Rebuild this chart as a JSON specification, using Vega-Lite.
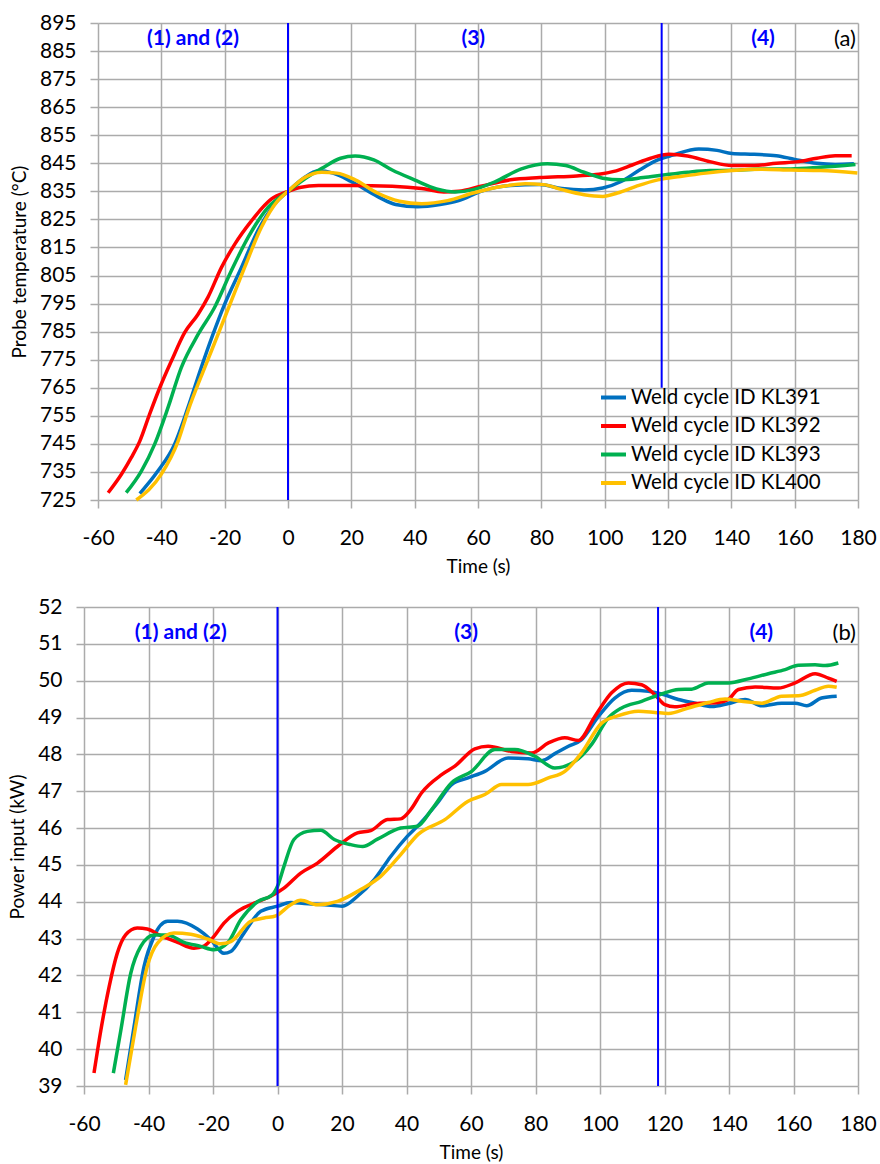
{
  "$schema": "https://vega.github.io/schema/vega-lite/v6.json",
  "padding": {"left": 8, "top": 12, "right": 5, "bottom": 0},
  "background": "white",
  "spacing": 20,
  "resolve": {"scale": {"x": "independent", "y": "independent", "color": "independent"}, "legend": {"color": "independent"}},
  "datasets": {
    "temp": [
      {"s":"Weld cycle ID KL391","t":-46.8,"v":727.3},{"s":"Weld cycle ID KL391","t":-41.1,"v":735.3},{"s":"Weld cycle ID KL391","t":-35.8,"v":744.9},{"s":"Weld cycle ID KL391","t":-31.6,"v":757.9},{"s":"Weld cycle ID KL391","t":-27.4,"v":772.2},{"s":"Weld cycle ID KL391","t":-23.7,"v":784},{"s":"Weld cycle ID KL391","t":-20,"v":794.8},{"s":"Weld cycle ID KL391","t":-14.7,"v":807.9},{"s":"Weld cycle ID KL391","t":-9.5,"v":821},{"s":"Weld cycle ID KL391","t":-4.2,"v":830.5},{"s":"Weld cycle ID KL391","t":0,"v":835},{"s":"Weld cycle ID KL391","t":4.9,"v":839.7},{"s":"Weld cycle ID KL391","t":9.6,"v":842.3},{"s":"Weld cycle ID KL391","t":14.2,"v":841.5},{"s":"Weld cycle ID KL391","t":20,"v":838.5},{"s":"Weld cycle ID KL391","t":28.2,"v":833.2},{"s":"Weld cycle ID KL391","t":34,"v":830.3},{"s":"Weld cycle ID KL391","t":41,"v":829.5},{"s":"Weld cycle ID KL391","t":48,"v":830.3},{"s":"Weld cycle ID KL391","t":53.9,"v":831.7},{"s":"Weld cycle ID KL391","t":60.9,"v":835},{"s":"Weld cycle ID KL391","t":70.2,"v":837.1},{"s":"Weld cycle ID KL391","t":79.5,"v":837.4},{"s":"Weld cycle ID KL391","t":86.5,"v":836},{"s":"Weld cycle ID KL391","t":93.5,"v":835.5},{"s":"Weld cycle ID KL391","t":99.4,"v":836.2},{"s":"Weld cycle ID KL391","t":105.2,"v":838.5},{"s":"Weld cycle ID KL391","t":111,"v":842.6},{"s":"Weld cycle ID KL391","t":116.8,"v":846.2},{"s":"Weld cycle ID KL391","t":121.5,"v":847.9},{"s":"Weld cycle ID KL391","t":129.7,"v":850.1},{"s":"Weld cycle ID KL391","t":135.5,"v":849.6},{"s":"Weld cycle ID KL391","t":140.2,"v":848.5},{"s":"Weld cycle ID KL391","t":147.2,"v":848.2},{"s":"Weld cycle ID KL391","t":154.2,"v":847.7},{"s":"Weld cycle ID KL391","t":160,"v":846.4},{"s":"Weld cycle ID KL391","t":167,"v":845},{"s":"Weld cycle ID KL391","t":172.8,"v":844.6},{"s":"Weld cycle ID KL391","t":178.7,"v":844.8},
      {"s":"Weld cycle ID KL392","t":-56.8,"v":727.6},{"s":"Weld cycle ID KL392","t":-52.6,"v":734.2},{"s":"Weld cycle ID KL392","t":-49.5,"v":740.1},{"s":"Weld cycle ID KL392","t":-46.8,"v":746},{"s":"Weld cycle ID KL392","t":-43.7,"v":755.6},{"s":"Weld cycle ID KL392","t":-40.5,"v":765},{"s":"Weld cycle ID KL392","t":-36.8,"v":774.6},{"s":"Weld cycle ID KL392","t":-32.6,"v":784.7},{"s":"Weld cycle ID KL392","t":-28.4,"v":791.2},{"s":"Weld cycle ID KL392","t":-25.3,"v":797.2},{"s":"Weld cycle ID KL392","t":-21,"v":807.9},{"s":"Weld cycle ID KL392","t":-16.8,"v":816.2},{"s":"Weld cycle ID KL392","t":-11.6,"v":824.4},{"s":"Weld cycle ID KL392","t":-5.3,"v":832.2},{"s":"Weld cycle ID KL392","t":0,"v":835},{"s":"Weld cycle ID KL392","t":3.7,"v":836.4},{"s":"Weld cycle ID KL392","t":9.6,"v":837.1},{"s":"Weld cycle ID KL392","t":20,"v":837.1},{"s":"Weld cycle ID KL392","t":32.9,"v":836.8},{"s":"Weld cycle ID KL392","t":42.2,"v":836},{"s":"Weld cycle ID KL392","t":49.2,"v":834.8},{"s":"Weld cycle ID KL392","t":53.9,"v":835},{"s":"Weld cycle ID KL392","t":60.9,"v":836.8},{"s":"Weld cycle ID KL392","t":70.2,"v":839.1},{"s":"Weld cycle ID KL392","t":79.5,"v":839.9},{"s":"Weld cycle ID KL392","t":91.2,"v":840.5},{"s":"Weld cycle ID KL392","t":98.2,"v":841.1},{"s":"Weld cycle ID KL392","t":102.9,"v":842.1},{"s":"Weld cycle ID KL392","t":108.7,"v":844.4},{"s":"Weld cycle ID KL392","t":114.5,"v":846.8},{"s":"Weld cycle ID KL392","t":120.3,"v":848.2},{"s":"Weld cycle ID KL392","t":126.2,"v":847.6},{"s":"Weld cycle ID KL392","t":133.2,"v":845.6},{"s":"Weld cycle ID KL392","t":140.2,"v":844.2},{"s":"Weld cycle ID KL392","t":147.2,"v":844.2},{"s":"Weld cycle ID KL392","t":154.2,"v":845},{"s":"Weld cycle ID KL392","t":161.2,"v":845.6},{"s":"Weld cycle ID KL392","t":167,"v":846.8},{"s":"Weld cycle ID KL392","t":172.8,"v":847.7},{"s":"Weld cycle ID KL392","t":178,"v":847.7},
      {"s":"Weld cycle ID KL393","t":-51.1,"v":727.6},{"s":"Weld cycle ID KL393","t":-46.3,"v":735.3},{"s":"Weld cycle ID KL393","t":-42.1,"v":744.9},{"s":"Weld cycle ID KL393","t":-37.9,"v":757.9},{"s":"Weld cycle ID KL393","t":-33.7,"v":772.2},{"s":"Weld cycle ID KL393","t":-28.4,"v":784},{"s":"Weld cycle ID KL393","t":-23.2,"v":793.6},{"s":"Weld cycle ID KL393","t":-17.9,"v":806.7},{"s":"Weld cycle ID KL393","t":-12.6,"v":818.6},{"s":"Weld cycle ID KL393","t":-6.3,"v":829.3},{"s":"Weld cycle ID KL393","t":0,"v":835},{"s":"Weld cycle ID KL393","t":4.9,"v":839.1},{"s":"Weld cycle ID KL393","t":10.7,"v":843.2},{"s":"Weld cycle ID KL393","t":16.6,"v":846.8},{"s":"Weld cycle ID KL393","t":21.2,"v":847.6},{"s":"Weld cycle ID KL393","t":27.1,"v":846.2},{"s":"Weld cycle ID KL393","t":32.9,"v":842.6},{"s":"Weld cycle ID KL393","t":39.9,"v":839.1},{"s":"Weld cycle ID KL393","t":46.9,"v":835.9},{"s":"Weld cycle ID KL393","t":52.7,"v":834.8},{"s":"Weld cycle ID KL393","t":58.5,"v":835.6},{"s":"Weld cycle ID KL393","t":65.5,"v":838.5},{"s":"Weld cycle ID KL393","t":73.7,"v":843},{"s":"Weld cycle ID KL393","t":81.9,"v":844.8},{"s":"Weld cycle ID KL393","t":87.7,"v":844.2},{"s":"Weld cycle ID KL393","t":93.5,"v":841.8},{"s":"Weld cycle ID KL393","t":99.4,"v":839.7},{"s":"Weld cycle ID KL393","t":105.2,"v":839.1},{"s":"Weld cycle ID KL393","t":112.2,"v":839.9},{"s":"Weld cycle ID KL393","t":119.2,"v":840.9},{"s":"Weld cycle ID KL393","t":126.2,"v":841.8},{"s":"Weld cycle ID KL393","t":133.2,"v":842.4},{"s":"Weld cycle ID KL393","t":140.2,"v":842.5},{"s":"Weld cycle ID KL393","t":149.5,"v":843},{"s":"Weld cycle ID KL393","t":158.8,"v":843},{"s":"Weld cycle ID KL393","t":168.2,"v":843.6},{"s":"Weld cycle ID KL393","t":179.2,"v":844.6},
      {"s":"Weld cycle ID KL400","t":-47.9,"v":725},{"s":"Weld cycle ID KL400","t":-40,"v":734.2},{"s":"Weld cycle ID KL400","t":-34.7,"v":746},{"s":"Weld cycle ID KL400","t":-31.6,"v":756.7},{"s":"Weld cycle ID KL400","t":-26.3,"v":772.2},{"s":"Weld cycle ID KL400","t":-22.1,"v":784},{"s":"Weld cycle ID KL400","t":-17.9,"v":796},{"s":"Weld cycle ID KL400","t":-13.7,"v":807.9},{"s":"Weld cycle ID KL400","t":-8.4,"v":822.2},{"s":"Weld cycle ID KL400","t":-3.2,"v":831.7},{"s":"Weld cycle ID KL400","t":0,"v":835},{"s":"Weld cycle ID KL400","t":4.9,"v":839.7},{"s":"Weld cycle ID KL400","t":10.7,"v":841.8},{"s":"Weld cycle ID KL400","t":15.4,"v":841.5},{"s":"Weld cycle ID KL400","t":21.2,"v":839.1},{"s":"Weld cycle ID KL400","t":28.2,"v":834.4},{"s":"Weld cycle ID KL400","t":35.2,"v":831.5},{"s":"Weld cycle ID KL400","t":42.2,"v":830.6},{"s":"Weld cycle ID KL400","t":50.4,"v":831.7},{"s":"Weld cycle ID KL400","t":58.5,"v":834.4},{"s":"Weld cycle ID KL400","t":67.9,"v":836.8},{"s":"Weld cycle ID KL400","t":74.9,"v":837.7},{"s":"Weld cycle ID KL400","t":80.7,"v":837.4},{"s":"Weld cycle ID KL400","t":86.5,"v":835.6},{"s":"Weld cycle ID KL400","t":93.5,"v":833.8},{"s":"Weld cycle ID KL400","t":99.4,"v":833.2},{"s":"Weld cycle ID KL400","t":104,"v":834.4},{"s":"Weld cycle ID KL400","t":109.9,"v":836.8},{"s":"Weld cycle ID KL400","t":116.8,"v":839.1},{"s":"Weld cycle ID KL400","t":123.9,"v":840.3},{"s":"Weld cycle ID KL400","t":132,"v":841.5},{"s":"Weld cycle ID KL400","t":140.2,"v":842.4},{"s":"Weld cycle ID KL400","t":149.5,"v":842.9},{"s":"Weld cycle ID KL400","t":158.8,"v":842.6},{"s":"Weld cycle ID KL400","t":168.2,"v":842.4},{"s":"Weld cycle ID KL400","t":179.8,"v":841.5}
    ],
    "power": [
      {"s":"Weld cycle ID KL391","t":-47.1,"v":39.16},{"s":"Weld cycle ID KL391","t":-44.5,"v":40.6},{"s":"Weld cycle ID KL391","t":-41.4,"v":42.24},{"s":"Weld cycle ID KL391","t":-38.3,"v":43.06},{"s":"Weld cycle ID KL391","t":-34.1,"v":43.47},{"s":"Weld cycle ID KL391","t":-31,"v":43.47},{"s":"Weld cycle ID KL391","t":-24.8,"v":43.26},{"s":"Weld cycle ID KL391","t":-20.7,"v":42.97},{"s":"Weld cycle ID KL391","t":-16.6,"v":42.6},{"s":"Weld cycle ID KL391","t":-14.5,"v":42.65},{"s":"Weld cycle ID KL391","t":-10.4,"v":43.15},{"s":"Weld cycle ID KL391","t":-5.2,"v":43.74},{"s":"Weld cycle ID KL391","t":0,"v":43.88},{"s":"Weld cycle ID KL391","t":4.1,"v":43.98},{"s":"Weld cycle ID KL391","t":8.3,"v":43.95},{"s":"Weld cycle ID KL391","t":14.5,"v":43.92},{"s":"Weld cycle ID KL391","t":20.1,"v":43.88},{"s":"Weld cycle ID KL391","t":24.8,"v":44.15},{"s":"Weld cycle ID KL391","t":30,"v":44.6},{"s":"Weld cycle ID KL391","t":35.1,"v":45.23},{"s":"Weld cycle ID KL391","t":40.3,"v":45.78},{"s":"Weld cycle ID KL391","t":44.4,"v":46.14},{"s":"Weld cycle ID KL391","t":49.6,"v":46.68},{"s":"Weld cycle ID KL391","t":54,"v":47.18},{"s":"Weld cycle ID KL391","t":59.1,"v":47.36},{"s":"Weld cycle ID KL391","t":64.3,"v":47.54},{"s":"Weld cycle ID KL391","t":71.5,"v":47.9},{"s":"Weld cycle ID KL391","t":77.7,"v":47.88},{"s":"Weld cycle ID KL391","t":81.9,"v":47.83},{"s":"Weld cycle ID KL391","t":86,"v":48.02},{"s":"Weld cycle ID KL391","t":90.2,"v":48.22},{"s":"Weld cycle ID KL391","t":94.3,"v":48.4},{"s":"Weld cycle ID KL391","t":99.5,"v":49.03},{"s":"Weld cycle ID KL391","t":104.6,"v":49.53},{"s":"Weld cycle ID KL391","t":109.8,"v":49.74},{"s":"Weld cycle ID KL391","t":115,"v":49.71},{"s":"Weld cycle ID KL391","t":119.1,"v":49.64},{"s":"Weld cycle ID KL391","t":124.3,"v":49.49},{"s":"Weld cycle ID KL391","t":129.5,"v":49.39},{"s":"Weld cycle ID KL391","t":134.6,"v":49.3},{"s":"Weld cycle ID KL391","t":139.8,"v":49.38},{"s":"Weld cycle ID KL391","t":145,"v":49.49},{"s":"Weld cycle ID KL391","t":150.2,"v":49.32},{"s":"Weld cycle ID KL391","t":156.3,"v":49.39},{"s":"Weld cycle ID KL391","t":160.5,"v":49.39},{"s":"Weld cycle ID KL391","t":164.1,"v":49.32},{"s":"Weld cycle ID KL391","t":168.7,"v":49.53},{"s":"Weld cycle ID KL391","t":173.4,"v":49.58},
      {"s":"Weld cycle ID KL392","t":-56.9,"v":39.35},{"s":"Weld cycle ID KL392","t":-54.8,"v":40.5},{"s":"Weld cycle ID KL392","t":-52.2,"v":41.7},{"s":"Weld cycle ID KL392","t":-49.7,"v":42.6},{"s":"Weld cycle ID KL392","t":-47.1,"v":43.1},{"s":"Weld cycle ID KL392","t":-43.5,"v":43.29},{"s":"Weld cycle ID KL392","t":-40.4,"v":43.26},{"s":"Weld cycle ID KL392","t":-36.2,"v":43.08},{"s":"Weld cycle ID KL392","t":-31,"v":42.9},{"s":"Weld cycle ID KL392","t":-25.9,"v":42.74},{"s":"Weld cycle ID KL392","t":-22.8,"v":42.8},{"s":"Weld cycle ID KL392","t":-19.7,"v":43.06},{"s":"Weld cycle ID KL392","t":-16.6,"v":43.42},{"s":"Weld cycle ID KL392","t":-12.4,"v":43.74},{"s":"Weld cycle ID KL392","t":-6.2,"v":44},{"s":"Weld cycle ID KL392","t":-2.1,"v":44.15},{"s":"Weld cycle ID KL392","t":2,"v":44.37},{"s":"Weld cycle ID KL392","t":7.2,"v":44.78},{"s":"Weld cycle ID KL392","t":12.4,"v":45.05},{"s":"Weld cycle ID KL392","t":18.6,"v":45.5},{"s":"Weld cycle ID KL392","t":24.8,"v":45.87},{"s":"Weld cycle ID KL392","t":28.9,"v":45.93},{"s":"Weld cycle ID KL392","t":34.1,"v":46.23},{"s":"Weld cycle ID KL392","t":38.2,"v":46.25},{"s":"Weld cycle ID KL392","t":41.3,"v":46.5},{"s":"Weld cycle ID KL392","t":44.7,"v":46.96},{"s":"Weld cycle ID KL392","t":50.9,"v":47.45},{"s":"Weld cycle ID KL392","t":55,"v":47.68},{"s":"Weld cycle ID KL392","t":61.2,"v":48.15},{"s":"Weld cycle ID KL392","t":65.3,"v":48.22},{"s":"Weld cycle ID KL392","t":72.5,"v":48.08},{"s":"Weld cycle ID KL392","t":78.8,"v":48.04},{"s":"Weld cycle ID KL392","t":84,"v":48.31},{"s":"Weld cycle ID KL392","t":89.1,"v":48.45},{"s":"Weld cycle ID KL392","t":93.3,"v":48.38},{"s":"Weld cycle ID KL392","t":98.4,"v":49.03},{"s":"Weld cycle ID KL392","t":103.6,"v":49.67},{"s":"Weld cycle ID KL392","t":108.8,"v":49.94},{"s":"Weld cycle ID KL392","t":112.9,"v":49.89},{"s":"Weld cycle ID KL392","t":117,"v":49.62},{"s":"Weld cycle ID KL392","t":120.1,"v":49.35},{"s":"Weld cycle ID KL392","t":123.2,"v":49.29},{"s":"Weld cycle ID KL392","t":129.5,"v":49.38},{"s":"Weld cycle ID KL392","t":136.7,"v":49.41},{"s":"Weld cycle ID KL392","t":139.8,"v":49.49},{"s":"Weld cycle ID KL392","t":142.9,"v":49.76},{"s":"Weld cycle ID KL392","t":148.1,"v":49.83},{"s":"Weld cycle ID KL392","t":155.3,"v":49.8},{"s":"Weld cycle ID KL392","t":160.5,"v":49.94},{"s":"Weld cycle ID KL392","t":166.7,"v":50.19},{"s":"Weld cycle ID KL392","t":170.8,"v":50.07},{"s":"Weld cycle ID KL392","t":173.4,"v":49.98},
      {"s":"Weld cycle ID KL393","t":-50.9,"v":39.35},{"s":"Weld cycle ID KL393","t":-48.6,"v":40.5},{"s":"Weld cycle ID KL393","t":-45.5,"v":42.06},{"s":"Weld cycle ID KL393","t":-42.4,"v":42.79},{"s":"Weld cycle ID KL393","t":-38.3,"v":43.1},{"s":"Weld cycle ID KL393","t":-34.1,"v":43.1},{"s":"Weld cycle ID KL393","t":-29,"v":42.9},{"s":"Weld cycle ID KL393","t":-23.8,"v":42.79},{"s":"Weld cycle ID KL393","t":-19.7,"v":42.7},{"s":"Weld cycle ID KL393","t":-15.5,"v":42.88},{"s":"Weld cycle ID KL393","t":-11.4,"v":43.51},{"s":"Weld cycle ID KL393","t":-6.2,"v":44},{"s":"Weld cycle ID KL393","t":-1.6,"v":44.19},{"s":"Weld cycle ID KL393","t":0,"v":44.42},{"s":"Weld cycle ID KL393","t":2,"v":44.96},{"s":"Weld cycle ID KL393","t":5.1,"v":45.69},{"s":"Weld cycle ID KL393","t":9.3,"v":45.91},{"s":"Weld cycle ID KL393","t":13.4,"v":45.94},{"s":"Weld cycle ID KL393","t":17.6,"v":45.69},{"s":"Weld cycle ID KL393","t":22.7,"v":45.55},{"s":"Weld cycle ID KL393","t":26.4,"v":45.5},{"s":"Weld cycle ID KL393","t":31,"v":45.7},{"s":"Weld cycle ID KL393","t":38.2,"v":46},{"s":"Weld cycle ID KL393","t":43.4,"v":46.05},{"s":"Weld cycle ID KL393","t":47.8,"v":46.5},{"s":"Weld cycle ID KL393","t":54,"v":47.23},{"s":"Weld cycle ID KL393","t":60.2,"v":47.54},{"s":"Weld cycle ID KL393","t":67.4,"v":48.13},{"s":"Weld cycle ID KL393","t":73.6,"v":48.13},{"s":"Weld cycle ID KL393","t":79.8,"v":47.95},{"s":"Weld cycle ID KL393","t":86,"v":47.63},{"s":"Weld cycle ID KL393","t":92.2,"v":47.81},{"s":"Weld cycle ID KL393","t":97.4,"v":48.27},{"s":"Weld cycle ID KL393","t":102.6,"v":48.99},{"s":"Weld cycle ID KL393","t":106.7,"v":49.26},{"s":"Weld cycle ID KL393","t":112.9,"v":49.44},{"s":"Weld cycle ID KL393","t":119.1,"v":49.64},{"s":"Weld cycle ID KL393","t":124.3,"v":49.76},{"s":"Weld cycle ID KL393","t":128.4,"v":49.77},{"s":"Weld cycle ID KL393","t":133.6,"v":49.94},{"s":"Weld cycle ID KL393","t":139.8,"v":49.94},{"s":"Weld cycle ID KL393","t":146,"v":50.05},{"s":"Weld cycle ID KL393","t":152.2,"v":50.19},{"s":"Weld cycle ID KL393","t":157.4,"v":50.3},{"s":"Weld cycle ID KL393","t":161.5,"v":50.42},{"s":"Weld cycle ID KL393","t":166.7,"v":50.43},{"s":"Weld cycle ID KL393","t":169.8,"v":50.41},{"s":"Weld cycle ID KL393","t":173.9,"v":50.48},
      {"s":"Weld cycle ID KL400","t":-47.1,"v":39.03},{"s":"Weld cycle ID KL400","t":-44,"v":40.6},{"s":"Weld cycle ID KL400","t":-40.4,"v":42.24},{"s":"Weld cycle ID KL400","t":-37.2,"v":42.88},{"s":"Weld cycle ID KL400","t":-32.1,"v":43.15},{"s":"Weld cycle ID KL400","t":-26.9,"v":43.12},{"s":"Weld cycle ID KL400","t":-21.7,"v":42.99},{"s":"Weld cycle ID KL400","t":-17.6,"v":42.86},{"s":"Weld cycle ID KL400","t":-14.5,"v":42.92},{"s":"Weld cycle ID KL400","t":-8.3,"v":43.47},{"s":"Weld cycle ID KL400","t":-4.2,"v":43.56},{"s":"Weld cycle ID KL400","t":-0.5,"v":43.62},{"s":"Weld cycle ID KL400","t":4.1,"v":43.92},{"s":"Weld cycle ID KL400","t":7.2,"v":44.04},{"s":"Weld cycle ID KL400","t":12.4,"v":43.92},{"s":"Weld cycle ID KL400","t":18.6,"v":44.01},{"s":"Weld cycle ID KL400","t":25.8,"v":44.33},{"s":"Weld cycle ID KL400","t":32,"v":44.69},{"s":"Weld cycle ID KL400","t":38.2,"v":45.28},{"s":"Weld cycle ID KL400","t":43.6,"v":45.83},{"s":"Weld cycle ID KL400","t":51.9,"v":46.23},{"s":"Weld cycle ID KL400","t":59.1,"v":46.73},{"s":"Weld cycle ID KL400","t":64.3,"v":46.91},{"s":"Weld cycle ID KL400","t":69.5,"v":47.18},{"s":"Weld cycle ID KL400","t":77.7,"v":47.18},{"s":"Weld cycle ID KL400","t":84,"v":47.36},{"s":"Weld cycle ID KL400","t":89.1,"v":47.54},{"s":"Weld cycle ID KL400","t":94.3,"v":48.04},{"s":"Weld cycle ID KL400","t":100.5,"v":48.85},{"s":"Weld cycle ID KL400","t":105.7,"v":49.05},{"s":"Weld cycle ID KL400","t":111.9,"v":49.17},{"s":"Weld cycle ID KL400","t":117,"v":49.14},{"s":"Weld cycle ID KL400","t":121.2,"v":49.11},{"s":"Weld cycle ID KL400","t":127.4,"v":49.26},{"s":"Weld cycle ID KL400","t":133.6,"v":49.41},{"s":"Weld cycle ID KL400","t":138.8,"v":49.5},{"s":"Weld cycle ID KL400","t":143.9,"v":49.44},{"s":"Weld cycle ID KL400","t":150.2,"v":49.39},{"s":"Weld cycle ID KL400","t":156.3,"v":49.58},{"s":"Weld cycle ID KL400","t":161.5,"v":49.59},{"s":"Weld cycle ID KL400","t":166.7,"v":49.74},{"s":"Weld cycle ID KL400","t":170.8,"v":49.85},{"s":"Weld cycle ID KL400","t":173.4,"v":49.82}
    ],
    "phases": [
      {"t":-30,"label":"(1) and (2)"},{"t":58.5,"label":"(3)"},{"t":150,"label":"(4)"}
    ]
  },
  "vconcat": [
    {
      "width": 760,
      "height": 477,
      "layer": [
        {
          "data": {"name": "temp"},
          "mark": {"type": "line", "strokeWidth": 3.5, "interpolate": "monotone"},
          "encoding": {
            "x": {"field": "t", "type": "quantitative", "scale": {"domain": [-60, 180], "nice": false}, "axis": {"title": "Time (s)", "values": [-60,-40,-20,0,20,40,60,80,100,120,140,160,180], "labelExpr": "datum.value + ''"}},
            "y": {"field": "v", "type": "quantitative", "scale": {"domain": [725, 895], "nice": false, "zero": false}, "axis": {"title": "Probe temperature (°C)", "values": [725,735,745,755,765,775,785,795,805,815,825,835,845,855,865,875,885,895]}},
            "color": {"field": "s", "type": "nominal",
              "scale": {"domain": ["Weld cycle ID KL391","Weld cycle ID KL392","Weld cycle ID KL393","Weld cycle ID KL400"], "range": ["#0070C0","#FF0000","#00B050","#FFC000"]},
              "legend": {"orient": "none", "legendX": 501, "legendY": 360, "title": null, "symbolType": "stroke", "symbolSize": 625, "symbolStrokeWidth": 4, "labelFontSize": 20.5, "labelColor": "#000000", "labelOffset": 3, "rowPadding": 3.5, "labelLimit": 400}}
          }
        },
        {
          "data": {"values": [{"t": 0}]},
          "mark": {"type": "rule", "color": "#0000FF", "strokeWidth": 2},
          "encoding": {"x": {"field": "t", "type": "quantitative", "scale": {"domain": [-60, 180], "nice": false}, "axis": {"title": "Time (s)", "values": [-60,-40,-20,0,20,40,60,80,100,120,140,160,180], "labelExpr": "datum.value + ''"}}}
        },
        {
          "data": {"values": [{"t": 118, "lo": 765, "hi": 895}]},
          "mark": {"type": "rule", "color": "#0000FF", "strokeWidth": 2},
          "encoding": {
            "x": {"field": "t", "type": "quantitative", "scale": {"domain": [-60, 180], "nice": false}, "axis": {"title": "Time (s)", "values": [-60,-40,-20,0,20,40,60,80,100,120,140,160,180], "labelExpr": "datum.value + ''"}},
            "y": {"field": "lo", "type": "quantitative", "scale": {"domain": [725, 895], "nice": false, "zero": false}, "axis": {"title": "Probe temperature (°C)", "values": [725,735,745,755,765,775,785,795,805,815,825,835,845,855,865,875,885,895]}},
            "y2": {"field": "hi"}
          }
        },
        {
          "data": {"name": "phases"},
          "mark": {"type": "text", "color": "#0000FF", "fontWeight": "bold", "fontSize": 21},
          "encoding": {
            "x": {"field": "t", "type": "quantitative", "scale": {"domain": [-60, 180], "nice": false}, "axis": {"title": "Time (s)", "values": [-60,-40,-20,0,20,40,60,80,100,120,140,160,180], "labelExpr": "datum.value + ''"}},
            "y": {"datum": 889.3, "type": "quantitative", "scale": {"domain": [725, 895], "nice": false, "zero": false}, "axis": {"title": "Probe temperature (°C)", "values": [725,735,745,755,765,775,785,795,805,815,825,835,845,855,865,875,885,895]}},
            "text": {"field": "label"}
          }
        },
        {
          "data": {"values": [{"t": 180, "label": "(a)"}]},
          "mark": {"type": "text", "color": "#000000", "fontSize": 22, "align": "right", "dx": -2},
          "encoding": {
            "x": {"field": "t", "type": "quantitative", "scale": {"domain": [-60, 180], "nice": false}, "axis": {"title": "Time (s)", "values": [-60,-40,-20,0,20,40,60,80,100,120,140,160,180], "labelExpr": "datum.value + ''"}},
            "y": {"datum": 889.3, "type": "quantitative", "scale": {"domain": [725, 895], "nice": false, "zero": false}, "axis": {"title": "Probe temperature (°C)", "values": [725,735,745,755,765,775,785,795,805,815,825,835,845,855,865,875,885,895]}},
            "text": {"field": "label"}
          }
        }
      ]
    },
    {
      "width": 760,
      "height": 479,
      "layer": [
        {
          "data": {"name": "power"},
          "mark": {"type": "line", "strokeWidth": 3.5, "interpolate": "monotone"},
          "encoding": {
            "x": {"field": "t", "type": "quantitative", "scale": {"domain": [-60, 180], "nice": false, "range": [-14, 760]}, "axis": {"title": "Time (s)", "values": [-60,-40,-20,0,20,40,60,80,100,120,140,160,180], "labelExpr": "datum.value + ''"}},
            "y": {"field": "v", "type": "quantitative", "scale": {"domain": [39, 52], "nice": false, "zero": false}, "axis": {"title": "Power input (kW)", "offset": 14, "values": [39,40,41,42,43,44,45,46,47,48,49,50,51,52]}},
            "color": {"field": "s", "type": "nominal",
              "scale": {"domain": ["Weld cycle ID KL391","Weld cycle ID KL392","Weld cycle ID KL393","Weld cycle ID KL400"], "range": ["#0070C0","#FF0000","#00B050","#FFC000"]},
              "legend": null}
          }
        },
        {
          "data": {"values": [{"t": 0}, {"t": 118}]},
          "mark": {"type": "rule", "color": "#0000FF", "strokeWidth": 2},
          "encoding": {"x": {"field": "t", "type": "quantitative", "scale": {"domain": [-60, 180], "nice": false, "range": [-14, 760]}, "axis": {"title": "Time (s)", "values": [-60,-40,-20,0,20,40,60,80,100,120,140,160,180], "labelExpr": "datum.value + ''"}}}
        },
        {
          "data": {"name": "phases"},
          "mark": {"type": "text", "color": "#0000FF", "fontWeight": "bold", "fontSize": 21},
          "encoding": {
            "x": {"field": "t", "type": "quantitative", "scale": {"domain": [-60, 180], "nice": false, "range": [-14, 760]}, "axis": {"title": "Time (s)", "values": [-60,-40,-20,0,20,40,60,80,100,120,140,160,180], "labelExpr": "datum.value + ''"}},
            "y": {"datum": 51.29, "type": "quantitative", "scale": {"domain": [39, 52], "nice": false, "zero": false}, "axis": {"title": "Power input (kW)", "offset": 14, "values": [39,40,41,42,43,44,45,46,47,48,49,50,51,52]}},
            "text": {"field": "label"}
          }
        },
        {
          "data": {"values": [{"t": 180, "label": "(b)"}]},
          "mark": {"type": "text", "color": "#000000", "fontSize": 22, "align": "right", "dx": -2},
          "encoding": {
            "x": {"field": "t", "type": "quantitative", "scale": {"domain": [-60, 180], "nice": false, "range": [-14, 760]}, "axis": {"title": "Time (s)", "values": [-60,-40,-20,0,20,40,60,80,100,120,140,160,180], "labelExpr": "datum.value + ''"}},
            "y": {"datum": 51.29, "type": "quantitative", "scale": {"domain": [39, 52], "nice": false, "zero": false}, "axis": {"title": "Power input (kW)", "offset": 14, "values": [39,40,41,42,43,44,45,46,47,48,49,50,51,52]}},
            "text": {"field": "label"}
          }
        }
      ]
    }
  ],
  "config": {
    "font": "Lato",
    "view": {"stroke": null},
    "axis": {
      "grid": true, "gridColor": "#ababab", "gridWidth": 1.5,
      "domain": false,
      "ticks": true, "tickColor": "#ababab", "tickWidth": 1.5, "tickSize": 8,
      "labelFontSize": 21, "labelColor": "#000000", "labelFlush": false, "labelOverlap": false, "labelBound": false,
      "titleFontWeight": "normal", "titleColor": "#000000"
    },
    "axisX": {"labelPadding": 19, "titlePadding": 9, "titleFontSize": 19},
    "axisY": {"labelPadding": 14, "titlePadding": 10, "titleFontSize": 19}
  }
}
